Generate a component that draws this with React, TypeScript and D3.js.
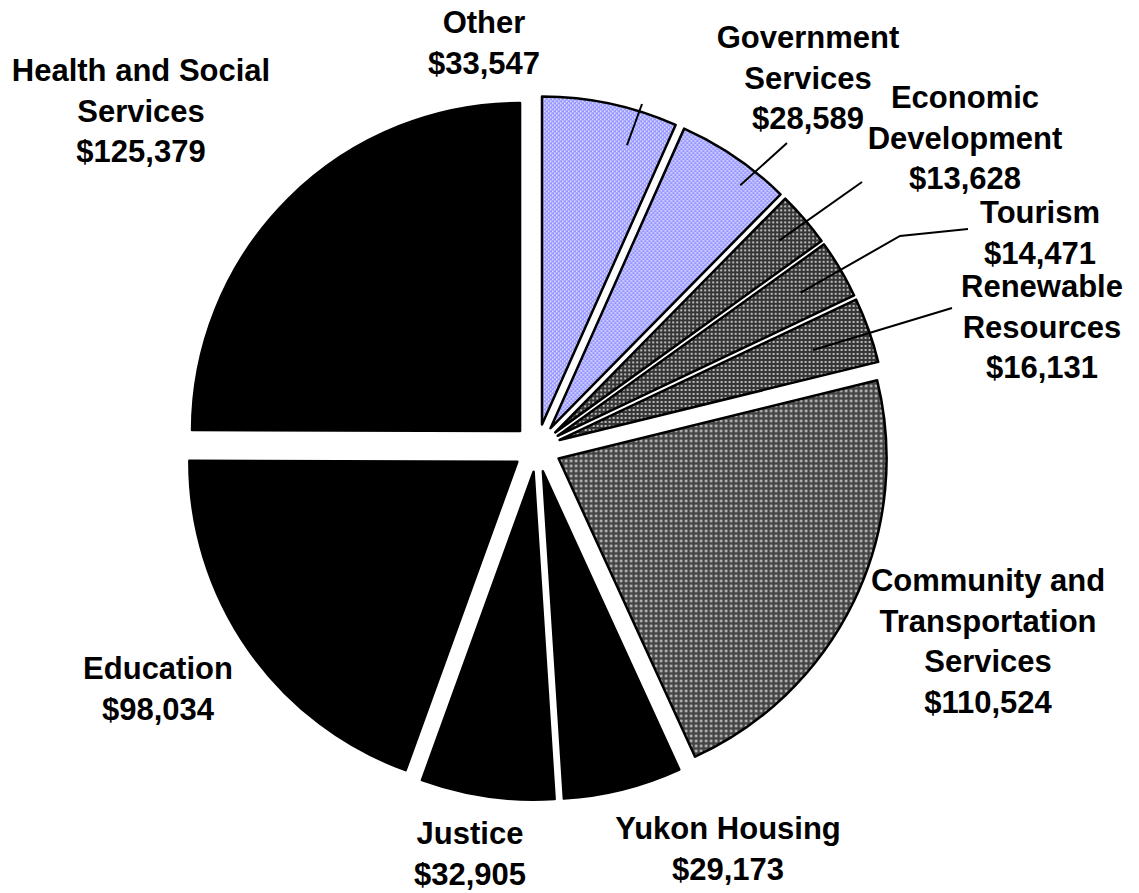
import { useRef, useEffect } from "react";
import * as d3 from "d3";

// Yukon expenditures by department ($000s), clockwise from 12 o'clock
const categories = [
  "Other",
  "Government Services",
  "Economic Development",
  "Tourism",
  "Renewable Resources",
  "Community and Transportation Services",
  "Yukon Housing",
  "Justice",
  "Education",
  "Health and Social Services",
];
const values = [33547, 28589, 13628, 14471, 16131, 110524, 29173, 32905, 98034, 125379];
const nameLines = [
  ["Other"],
  ["Government", "Services"],
  ["Economic", "Development"],
  ["Tourism"],
  ["Renewable", "Resources"],
  ["Community and", "Transportation", "Services"],
  ["Yukon Housing"],
  ["Justice"],
  ["Education"],
  ["Health and Social", "Services"],
];

// fill style per slice
const fillKind = ["blue", "blue", "dark", "dark", "dark", "gray", "black", "black", "black", "black"];

// label placement: center x, first baseline y
// leader: start at k*r from the slice tip (bisector + da degrees), then points toward the label
const labelLayout: { x: number; y: number; leader?: [number, number][]; k?: number; da?: number }[] = [
  { x: 484, y: 33, leader: [[642, 104]], k: 0.89, da: 4.9 },
  { x: 808, y: 48, leader: [[787, 143]], k: 0.94, da: 3.7 },
  { x: 965, y: 108, leader: [[862, 182]], k: 0.9 },
  { x: 1040, y: 223, leader: [[900, 236], [968, 229]], k: 0.86 },
  { x: 1042, y: 297, leader: [[952, 308]], k: 0.82 },
  { x: 988, y: 591 },
  { x: 728, y: 839 },
  { x: 470, y: 844 },
  { x: 158, y: 679 },
  { x: 141, y: 81 },
];

export default function App() {
  const svgRef = useRef<SVGSVGElement>(null);

  useEffect(() => {
    const svg = svgRef.current;
    if (!svg) return;

    const width = 1139;
    const height = 893;
    const cx = 537;
    const cy = 448;
    const r = 328;
    const explode = 24;
    const lineH = 40.5;

    const sel = d3.select(svg);
    sel.selectAll("*").remove();
    sel.attr("width", width).attr("height", height);

    const defs = sel.append("defs");

    const blue = defs.append("pattern").attr("id", "p-blue").attr("width", 4).attr("height", 4)
      .attr("patternUnits", "userSpaceOnUse");
    blue.append("rect").attr("width", 4).attr("height", 4).attr("fill", "#9797ff");
    blue.append("rect").attr("x", 0).attr("y", 0).attr("width", 1.5).attr("height", 1.5).attr("fill", "#eeeeff");
    blue.append("rect").attr("x", 2).attr("y", 2).attr("width", 1.5).attr("height", 1.5).attr("fill", "#eeeeff");

    const dark = defs.append("pattern").attr("id", "p-dark").attr("width", 4).attr("height", 4)
      .attr("patternUnits", "userSpaceOnUse");
    dark.append("rect").attr("width", 4).attr("height", 4).attr("fill", "#353535");
    dark.append("circle").attr("cx", 2).attr("cy", 2).attr("r", 1.1).attr("fill", "#dadada");

    const gray = defs.append("pattern").attr("id", "p-gray").attr("width", 5).attr("height", 5)
      .attr("patternUnits", "userSpaceOnUse");
    gray.append("rect").attr("width", 5).attr("height", 5).attr("fill", "#444");
    gray.append("circle").attr("cx", 2.5).attr("cy", 2.5).attr("r", 1.3).attr("fill", "#dcdcdc");

    const fillOf = (k: string) =>
      k === "blue" ? "url(#p-blue)" : k === "dark" ? "url(#p-dark)" : k === "gray" ? "url(#p-gray)" : "#000";

    const data = values.map((v, i) => ({ v, i }));
    const pie = d3.pie<{ v: number; i: number }>().value((d) => d.v).sort(null).startAngle(0).endAngle(2 * Math.PI);
    const arcs = pie(data);
    const arc = d3.arc<d3.PieArcDatum<{ v: number; i: number }>>().innerRadius(0).outerRadius(r);

    const g = sel.append("g").attr("transform", `translate(${cx},${cy})`);

    const off = (a: d3.PieArcDatum<any>) => {
      const m = (a.startAngle + a.endAngle) / 2;
      return [explode * Math.sin(m), -explode * Math.cos(m)];
    };

    g.selectAll("path.slice")
      .data(arcs)
      .join("path")
      .attr("class", "slice")
      .attr("transform", (a) => {
        const [dx, dy] = off(a);
        return `translate(${dx},${dy})`;
      })
      .attr("d", arc)
      .attr("fill", (a) => fillOf(fillKind[a.data.i]))
      .attr("stroke", "#000")
      .attr("stroke-width", 2.5)
      .attr("stroke-linejoin", "round");

    // leader lines
    arcs.forEach((a) => {
      const lay = labelLayout[a.data.i];
      if (!lay.leader) return;
      const m = (a.startAngle + a.endAngle) / 2 + ((lay.da ?? 0) * Math.PI) / 180;
      const [dx, dy] = off(a);
      const sx = cx + dx + (lay.k ?? 0.9) * r * Math.sin(m);
      const sy = cy + dy - (lay.k ?? 0.9) * r * Math.cos(m);
      const pts: [number, number][] = [[sx, sy], ...lay.leader];
      sel.append("path")
        .attr("d", d3.line()(pts))
        .attr("fill", "none")
        .attr("stroke", "#000")
        .attr("stroke-width", 2);
    });

    // labels
    const fmt = d3.format("$,");
    arcs.forEach((a) => {
      const i = a.data.i;
      const lay = labelLayout[i];
      const lines = [...nameLines[i], fmt(values[i])];
      const t = sel.append("text")
        .attr("text-anchor", "middle")
        .attr("font-family", "Liberation Sans, Arial, sans-serif")
        .attr("font-weight", "bold")
        .attr("font-size", 31)
        .attr("fill", "#000");
      lines.forEach((ln, j) => {
        t.append("tspan").attr("x", lay.x).attr("y", lay.y + j * lineH).text(ln);
      });
    });
  }, []);

  return <svg ref={svgRef} style={{ position: "absolute", left: 0, top: 0, display: "block" }} />;
}
